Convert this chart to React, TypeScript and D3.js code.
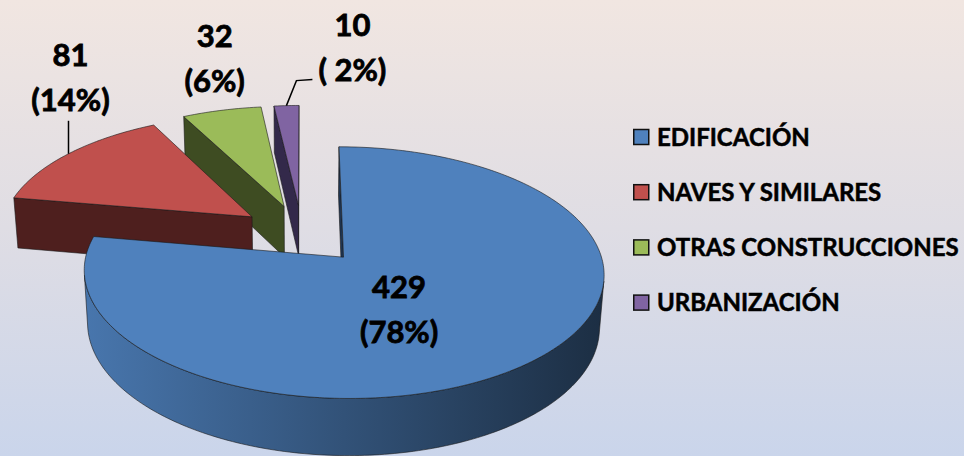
import React, { useEffect, useRef } from "react";
import * as d3 from "d3";

// values
const categories = ["EDIFICACIÓN", "NAVES Y SIMILARES", "OTRAS CONSTRUCCIONES", "URBANIZACIÓN"];
const counts = [429, 81, 32, 10];
const percentLabels = ["(78%)", "(14%)", "(6%)", "( 2%)"];

const topColors = ["#4f81bd", "#c0504d", "#9bbb59", "#8064a2"];
const sideColors = ["#1f3552", "#4e1f1e", "#3e4c22", "#33294a"];

const width = 964;
const height = 456;

// simple perspective camera, pie radius = 1
const cx = 302;
const cy = 234;
const tilt = (28 * Math.PI) / 180;
const camDist = 7.35;
const pxPerRadius = 252;
const thickness = 0.235;
const explode = 0.25;
const camX = 0;
const camZ = -camDist * Math.cos(tilt);

type P = { x: number; y: number; depth: number };

function project(x: number, y: number, z: number): P {
  const yc = y * Math.cos(tilt) + z * Math.sin(tilt);
  const zc = -y * Math.sin(tilt) + z * Math.cos(tilt) + camDist;
  const k = (pxPerRadius * camDist) / zc;
  return { x: cx + x * k, y: cy - yc * k, depth: zc };
}

const App = () => {
  const ref = useRef<SVGSVGElement>(null);

  useEffect(() => {
    const svg = d3.select(ref.current);
    svg.selectAll("*").remove();

    const defs = svg.append("defs");
    const bg = defs.append("linearGradient")
      .attr("id", "bg")
      .attr("x1", 0).attr("y1", 0).attr("x2", 0).attr("y2", 1);
    bg.append("stop").attr("offset", 0).attr("stop-color", "#f1e6e1");
    bg.append("stop").attr("offset", 0.5).attr("stop-color", "#dfdde4");
    bg.append("stop").attr("offset", 1).attr("stop-color", "#cad5eb");

    svg.append("rect")
      .attr("width", width)
      .attr("height", height)
      .attr("fill", "url(#bg)");

    const arcs = d3.pie<number>().sort(null).value(d => d)(counts);

    type Face = { pts: P[]; fill: string; depth: number };
    const walls: Face[] = [];
    const tops: Face[] = [];
    const anchors: { mid: (r: number) => P; rim: P }[] = [];

    arcs.forEach((a, i) => {
      const a0 = a.startAngle;
      const a1 = a.endAngle;
      const mid = (a0 + a1) / 2;
      const ox = explode * Math.sin(mid);
      const oz = explode * Math.cos(mid);
      const rim = (t: number, y: number) => project(ox + Math.sin(t), y, oz + Math.cos(t));

      const steps = Math.max(4, Math.ceil((a1 - a0) / (Math.PI / 180)));
      const angles = d3.range(steps + 1).map(j => a0 + ((a1 - a0) * j) / steps);

      // top
      tops.push({
        pts: [project(ox, 0, oz), ...angles.map(t => rim(t, 0))],
        fill: topColors[i],
        depth: 0
      });

      // outer wall, only the parts facing the camera
      const facing = (t: number) => {
        const px = ox + Math.sin(t);
        const pz = oz + Math.cos(t);
        return Math.sin(t) * (camX - px) + Math.cos(t) * (camZ - pz) > 0;
      };
      let run: number[] = [];
      const flush = () => {
        if (run.length > 1) {
          const pts = [
            ...run.map(t => rim(t, 0)),
            ...run.slice().reverse().map(t => rim(t, -thickness))
          ];
          const x0 = d3.min(pts, p => p.x)!;
          const x1 = d3.max(pts, p => p.x)!;
          const id = `wall${i}_${walls.length}`;
          const base = d3.color(topColors[i])!;
          const g = defs.append("linearGradient")
            .attr("id", id)
            .attr("gradientUnits", "userSpaceOnUse")
            .attr("x1", x0).attr("x2", x1).attr("y1", 0).attr("y2", 0);
          g.append("stop").attr("offset", 0).attr("stop-color", base.darker(0.25).formatHex());
          g.append("stop").attr("offset", 1).attr("stop-color", base.darker(2.9).formatHex());
          walls.push({ pts, fill: `url(#${id})`, depth: d3.mean(pts, p => p.depth)! });
        }
        run = [];
      };
      angles.forEach(t => {
        if (facing(t)) run.push(t);
        else flush();
      });
      flush();

      // radial cut faces
      const radial = (t: number, sign: number) => {
        const nx = sign * Math.cos(t);
        const nz = -sign * Math.sin(t);
        if (nx * (camX - ox) + nz * (camZ - oz) <= 0) return;
        const pts = [project(ox, 0, oz), rim(t, 0), rim(t, -thickness), project(ox, -thickness, oz)];
        walls.push({ pts, fill: sideColors[i], depth: d3.mean(pts, p => p.depth)! });
      };
      radial(a0, -1);
      radial(a1, 1);

      anchors.push({
        mid: (r: number) => project(ox + r * Math.sin(mid), 0, oz + r * Math.cos(mid)),
        rim: rim(mid, 0)
      });
    });

    const line = d3.line<P>().x(p => p.x).y(p => p.y);

    const pie = svg.append("g");
    walls.sort((a, b) => b.depth - a.depth);
    [...walls, ...tops].forEach(f => {
      pie.append("path")
        .attr("d", line(f.pts) + "Z")
        .attr("fill", f.fill)
        .attr("stroke", "#1a1a1a")
        .attr("stroke-opacity", 0.75)
        .attr("stroke-width", 0.8)
        .attr("stroke-linejoin", "round");
    });

    // data labels
    const font = "Lato, 'Open Sans', sans-serif";
    const labels = svg.append("g")
      .attr("font-family", font)
      .attr("font-weight", 700)
      .attr("font-size", 31)
      .attr("fill", "#000")
      .attr("stroke", "#000")
      .attr("stroke-width", 0.8)
      .attr("text-anchor", "middle");

    const place = (i: number, x: number, y: number) => {
      labels.append("text").attr("x", x).attr("y", y).text(String(counts[i]));
      labels.append("text").attr("x", x).attr("y", y + 45.5).text(percentLabels[i]);
    };

    // inside the big slice
    const inner = anchors[0].mid(0.35);
    place(0, inner.x - 6, inner.y + 6.5);

    // red: leader straight up
    const r1 = anchors[1].rim;
    svg.append("path")
      .attr("d", line([r1, { x: r1.x, y: r1.y - 33, depth: 0 }]))
      .attr("stroke", "#000").attr("stroke-width", 1.5).attr("fill", "none");
    place(1, r1.x + 2, r1.y - 88);

    // green: no leader
    const r2 = anchors[2].rim;
    place(2, r2.x - 7, r2.y - 63.5);

    // purple: bent leader
    const r3 = anchors[3].rim;
    svg.append("path")
      .attr("d", line([
        r3,
        { x: r3.x + 10, y: r3.y - 25, depth: 0 },
        { x: r3.x + 26, y: r3.y - 26, depth: 0 }
      ]))
      .attr("stroke", "#000").attr("stroke-width", 1.5).attr("fill", "none");
    place(3, r3.x + 66, r3.y - 70);

    // legend
    const legend = svg.append("g").attr("transform", "translate(633, 137)");
    const rowY = d3.scalePoint<string>().domain(categories).range([0, 165.6]);
    categories.forEach((c, i) => {
      const row = legend.append("g").attr("transform", `translate(0, ${rowY(c)})`);
      row.append("rect")
        .attr("x", 0.75).attr("y", -7.5)
        .attr("width", 15).attr("height", 15)
        .attr("fill", topColors[i])
        .attr("stroke", "#111")
        .attr("stroke-width", 1.5);
      row.append("text")
        .attr("x", 24)
        .attr("y", 8.5)
        .attr("font-family", font)
        .attr("font-weight", 700)
        .attr("font-size", 24)
        .attr("fill", "#000")
        .attr("stroke", "#000")
        .attr("stroke-width", 0.5)
        .text(c);
    });
  }, []);

  return (
    <svg
      ref={ref}
      width={width}
      height={height}
      style={{ position: "absolute", left: 0, top: 0 }}
    />
  );
};

export default App;
